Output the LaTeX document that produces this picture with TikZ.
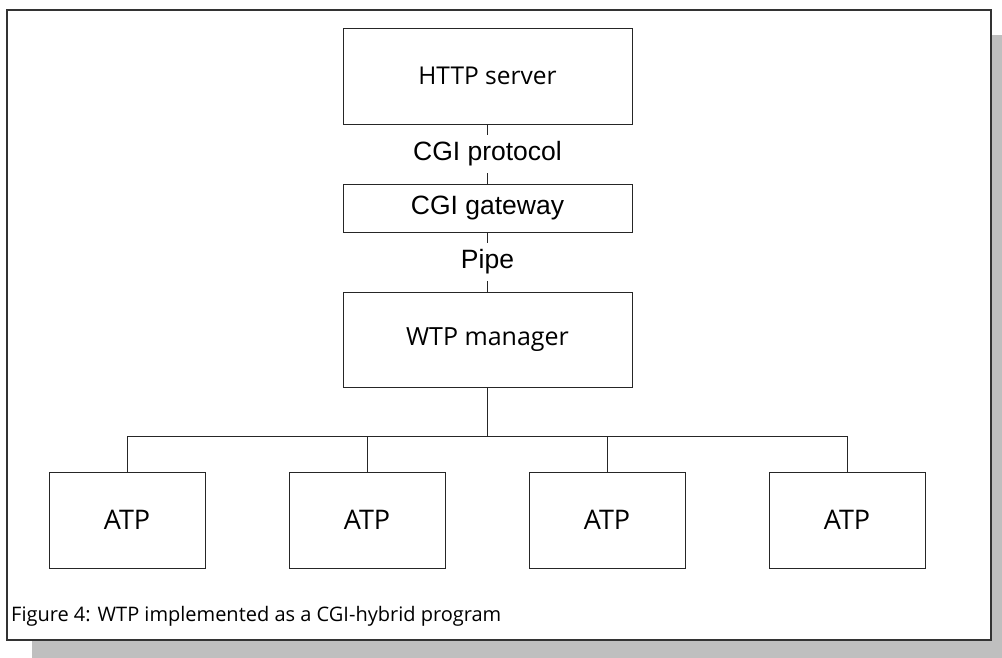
\documentclass[tikz,border=0pt]{standalone}
\usepackage{fontspec}
\setmainfont{Liberation Sans}
\newfontfamily\uifont{Open Sans}
\begin{document}
\begin{tikzpicture}[x=1pt,y=-1pt,
  box/.style={draw=black!85, line width=1pt, fill=white, inner sep=0pt},
  topbox/.style={box, minimum width=289pt},
  atpbox/.style={box, minimum width=156pt, minimum height=96pt, font=\uifont\fontsize{27}{30}\selectfont},
  link/.style={draw=black!85, line width=1pt},
  lbl/.style={fill=white, inner sep=0pt, minimum height=38pt, font=\fontsize{26.5}{29}\selectfont}]
\useasboundingbox (0,0) rectangle (1002,657);
% frame and shadow
\fill[black!25] (32,35) rectangle (1016,665);
\draw[fill=white, draw=black!80, line width=1.4pt] (7,10) rectangle (991,640);
% boxes
\node[topbox, minimum height=96pt, font=\uifont\fontsize{24.5}{28}\selectfont] (http) at (487.5,76) {HTTP server};
\node[topbox, minimum height=48pt, font=\fontsize{26.5}{29}\selectfont] (cgi) at (487.5,208) {CGI gateway};
\node[topbox, minimum height=95pt, font=\uifont\fontsize{25}{28}\selectfont] (wtp) at (487.5,339.5) {WTP manager};
\node[atpbox] (a1) at (127,520) {ATP};
\node[atpbox] (a2) at (367,520) {ATP};
\node[atpbox] (a3) at (607,520) {ATP};
\node[atpbox] (a4) at (847,520) {ATP};
% connectors
\draw[link] (http.south) -- (cgi.north) node[lbl, midway] (proto) {CGI protocol};
\draw[link] (cgi.south) -- (wtp.north) node[lbl, midway] (pipe) {Pipe};
\coordinate (bus) at (487.5,436);
\draw[link] (wtp.south) -- (bus);
\draw[link] (a1.north) |- (bus);
\draw[link] (a4.north) |- (bus);
\draw[link] (a2.north) |- (bus);
\draw[link] (a3.north) |- (bus);
% caption
\node[anchor=west, inner sep=0pt, font=\uifont\fontsize{20}{23}\selectfont] (cap) at (11,616) {Figure 4: WTP implemented as a CGI-hybrid program};
\end{tikzpicture}
\end{document}
